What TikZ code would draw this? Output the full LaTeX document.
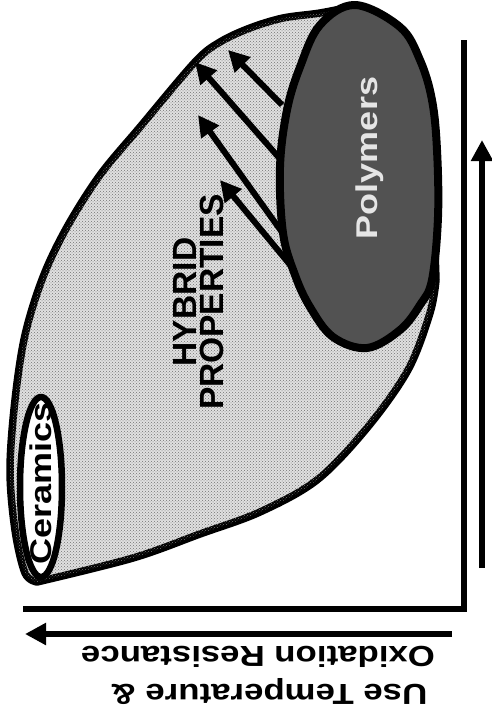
\documentclass[tikz,border=0pt]{standalone}
\usepackage{fontspec}
\usepackage{graphicx}
\setmainfont{Liberation Sans}
\newfontfamily\widefont[FakeStretch=1.2]{Liberation Sans}
\usetikzlibrary{arrows.meta,patterns}

\newcommand*{\axisy}{609}
\newcommand*{\axisx}{464}
\newcommand*{\wide}[1]{\scalebox{1.2}[1]{#1}}

\begin{document}
\begin{tikzpicture}
[
	x=1pt,y=-1pt,
	outline/.style={line width=7.5pt,line join=round},
	flow/.style={line width=6pt,-{Triangle[length=21pt,width=21pt]}},
	txt/.style={inner sep=0pt,align=center},
	bigtxt/.style={txt,font=\bfseries\fontsize{33.5}{27}\selectfont},
	widetxt/.style={txt,font=\widefont\bfseries\fontsize{30}{30}\selectfont},
	axistxt/.style={txt,rotate=180,font=\bfseries\fontsize{29}{29}\selectfont}
]
	\useasboundingbox (0,0) rectangle (491,715);

	% hybrid region
	\draw[outline,fill=black!12,postaction={pattern=crosshatch dots,pattern color=black!55}]
		plot[smooth,tension=0.55] coordinates {(355,6) (320,13) (283,18) (250,28) (220,42) (195,62) (140,127) (100,175) (67,227) (43,277) (25,335) (15,400) (10,470) (15,530) (25,573) (37,582)}
		-- plot[smooth,tension=0.55] coordinates {(37,582) (133,558) (200,534) (260,512) (317,480) (367,428) (408,370) (430,313) (436,280)}
		-- (430,100) -- cycle;

	% polymers
	\draw[outline,line width=8pt,fill=black!68]
		plot[smooth cycle,tension=0.6] coordinates {(355,5) (400,27) (420,60) (432,100) (437,150) (438,217) (432,280) (420,305) (400,330) (367,348) (333,337) (310,307) (295,275) (283,233) (280,167) (287,110) (300,67) (320,25)};
	\node[widetxt,rotate=90,text=white!90!black] (polymers) at (370,158) {Polymers};

	% ceramics
	\draw[outline,line width=6.5pt,fill=white] (41,487) ellipse [x radius=21,y radius=90];
	\node[widetxt,rotate=90] (ceramics) at (41,483) {Ceramics};

	% arrows out of the polymers
	\coordinate (tA) at (282,105);
	\coordinate (hA) at (228,50);
	\coordinate (tB) at (281,160);
	\coordinate (hB) at (195,62);
	\coordinate (tC) at (284,235);
	\coordinate (hC) at (198,115);
	\coordinate (tD) at (291,266);
	\coordinate (hD) at (220,180);
	\draw[flow] (tA) -- (hA);
	\draw[flow] (tB) -- (hB);
	\draw[flow] (tC) -- (hC);
	\draw[flow] (tD) -- (hD);

	\node[bigtxt,rotate=90] (hybrid) at (199,302) {HYBRID\\PROPERTIES};

	% axes
	\coordinate (top) at (\axisx,40);
	\coordinate (left) at (23,\axisy);
	\draw[line width=6pt] (top) |- (left);
	\coordinate (upfrom) at (482,568);
	\coordinate (upto) at (482,140);
	\draw[flow] (upfrom) -- (upto);
	\coordinate (leftfrom) at (452,634);
	\coordinate (leftto) at (25,634);
	\draw[flow] (leftfrom) -- (leftto);

	\node[axistxt] (oxid) at (258,657) {\wide{Oxidation Resistance}};
	\node[axistxt] (usetemp) at (269,692) {\wide{Use Temperature \&}};

\end{tikzpicture}
\end{document}
